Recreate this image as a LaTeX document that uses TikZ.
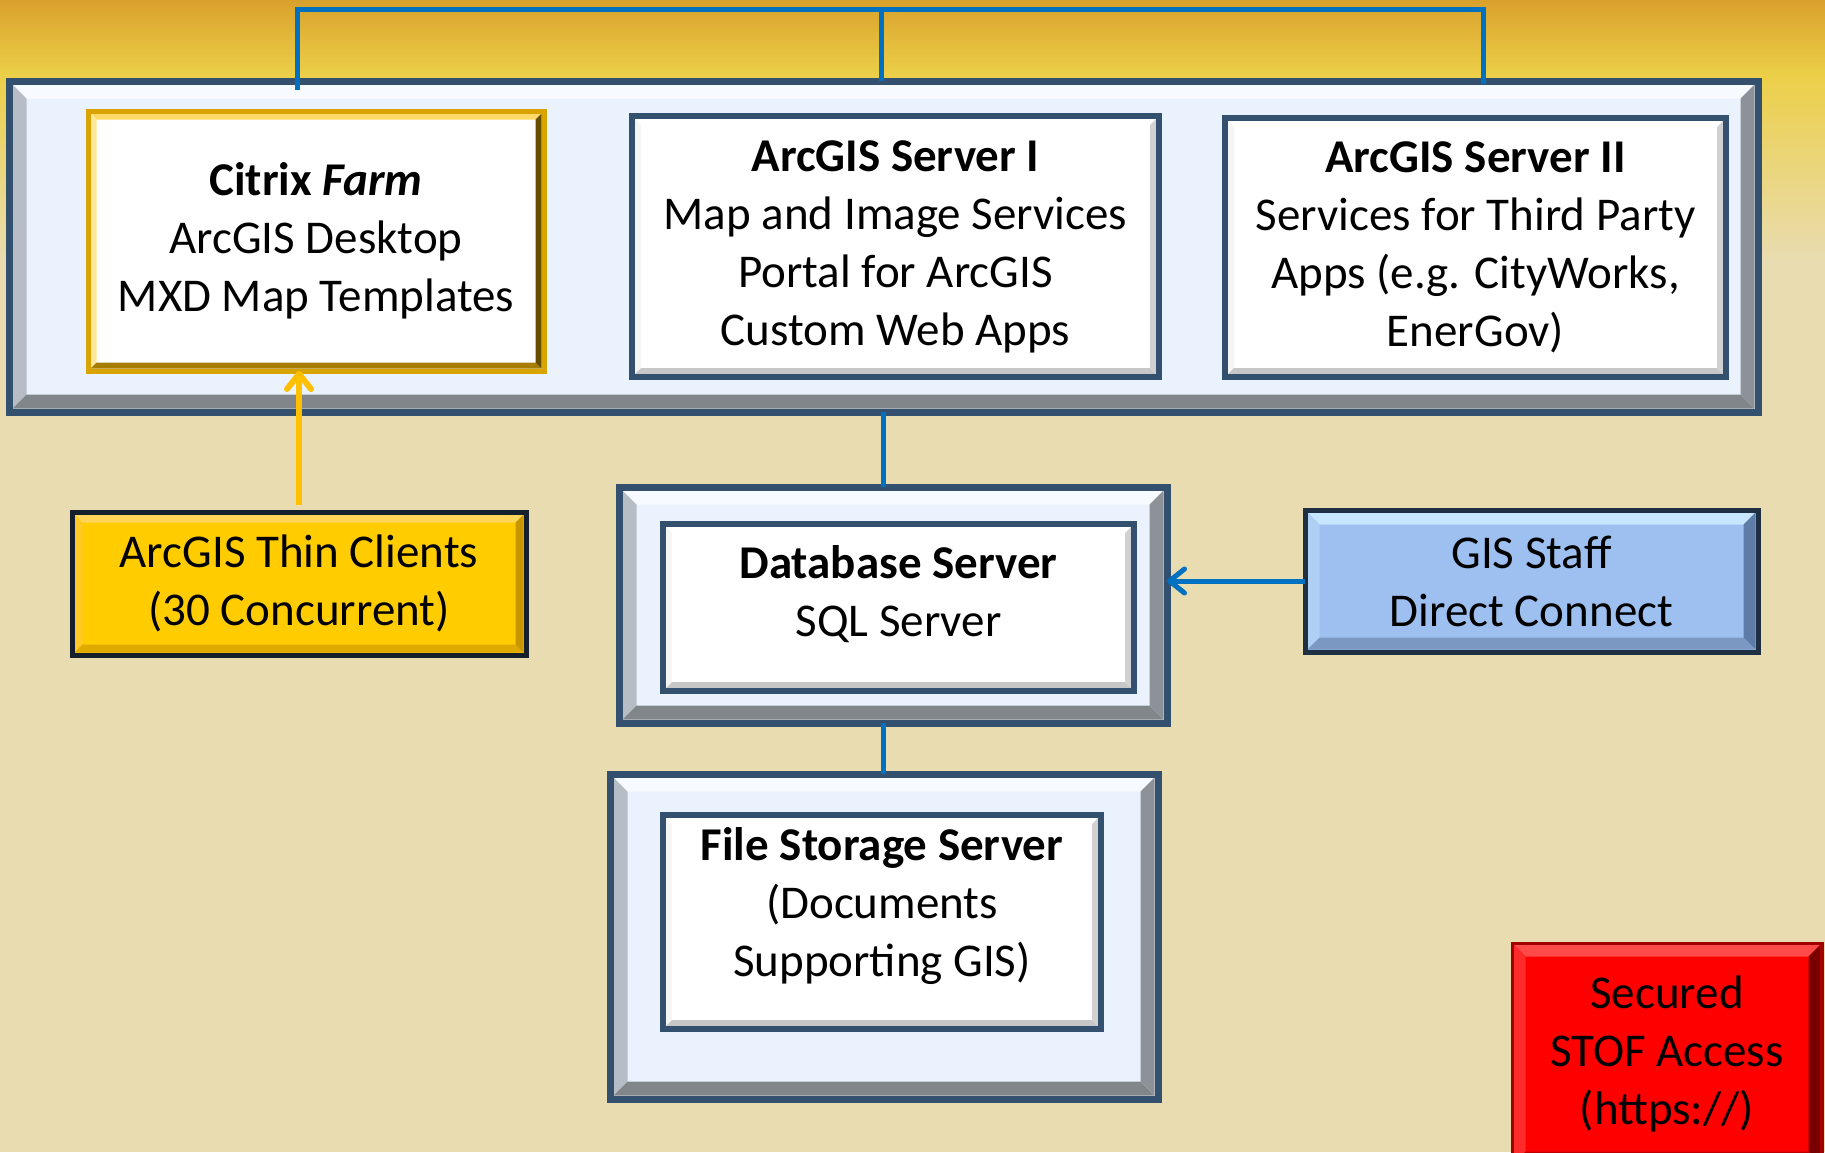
\documentclass[tikz,border=0pt]{standalone}
\usepackage{fontspec}
\setmainfont{Carlito}
\usetikzlibrary{arrows.meta,calc}
\definecolor{bgtan}{HTML}{E9DCB0}
\definecolor{goldA}{HTML}{D9A12C}
\definecolor{goldB}{HTML}{ECCF48}
\definecolor{linkblue}{HTML}{0070C0}
\definecolor{linkyellow}{HTML}{FFC000}
\definecolor{navy}{HTML}{34506F}
\definecolor{paleblue}{HTML}{EAF3FD}
\definecolor{thinfill}{HTML}{FFCC00}
\definecolor{gisfill}{HTML}{9DC0F0}
\definecolor{gistop}{HTML}{C8E6FF}
\definecolor{gisleft}{HTML}{AFCFF5}
\definecolor{gisbot}{HTML}{7B98C2}
\definecolor{gisright}{HTML}{5E7CA8}
\definecolor{redborder}{HTML}{A00000}
\definecolor{redtop}{HTML}{FF4A4A}
\definecolor{redleft}{HTML}{FF2A2A}
\definecolor{redbot}{HTML}{C00000}
\definecolor{redright}{HTML}{7A0000}
\tikzset{
  bev/.style n args={8}{draw=#1, line width=#2, fill=#3, inner sep=0pt, outer sep=0pt, anchor=north west,
    font=\fontsize{47}{58}\selectfont, align=center, text=black,
    path picture={
      \fill[#4] let \p1=(path picture bounding box.south west), \p2=(path picture bounding box.north east) in
        (\x1+0.5*#2,\y2-0.5*#2) -- (\x2-0.5*#2,\y2-0.5*#2) -- (\x2-0.5*#2-#8,\y2-0.5*#2-#8) -- (\x1+0.5*#2+#8,\y2-0.5*#2-#8) -- cycle;
      \fill[#5] let \p1=(path picture bounding box.south west), \p2=(path picture bounding box.north east) in
        (\x1+0.5*#2,\y2-0.5*#2) -- (\x1+0.5*#2,\y1+0.5*#2) -- (\x1+0.5*#2+#8,\y1+0.5*#2+#8) -- (\x1+0.5*#2+#8,\y2-0.5*#2-#8) -- cycle;
      \fill[#6] let \p1=(path picture bounding box.south west), \p2=(path picture bounding box.north east) in
        (\x1+0.5*#2,\y1+0.5*#2) -- (\x2-0.5*#2,\y1+0.5*#2) -- (\x2-0.5*#2-#8,\y1+0.5*#2+#8) -- (\x1+0.5*#2+#8,\y1+0.5*#2+#8) -- cycle;
      \fill[#7] let \p1=(path picture bounding box.south west), \p2=(path picture bounding box.north east) in
        (\x2-0.5*#2,\y2-0.5*#2) -- (\x2-0.5*#2,\y1+0.5*#2) -- (\x2-0.5*#2-#8,\y1+0.5*#2+#8) -- (\x2-0.5*#2-#8,\y2-0.5*#2-#8) -- cycle;
    }},
  outerbev/.style={bev={navy}{7pt}{paleblue}{{white!60!paleblue}}{{black!22!paleblue}}{{black!45!paleblue}}{{black!40!paleblue}}{14pt}},
  whitebev/.style={bev={navy}{6pt}{white}{white}{{black!4}}{{black!22}}{{black!18}}{6pt}},
  goldbev/.style={bev={{linkyellow!85!black}}{5pt}{white}{{white!40!linkyellow}}{{white!60!linkyellow}}{{linkyellow!65!black}}{{linkyellow!40!black}}{6pt}},
  thinbev/.style={bev={{navy!40!black}}{5pt}{thinfill}{{white!35!linkyellow}}{{white!15!linkyellow}}{{linkyellow!88!black}}{{linkyellow!78!black}}{8pt}},
  gisbev/.style={bev={{navy!60!black}}{5pt}{gisfill}{gistop}{gisleft}{gisbot}{gisright}{12pt}},
  redbev/.style={bev={redborder}{3pt}{red}{redtop}{redleft}{redbot}{redright}{12pt}},
  bluelink/.style={draw=linkblue, line width=5pt},
  yellowlink/.style={draw=linkyellow, line width=6pt},
  barbtip/.style={-{Straight Barb[length=15pt,width=24pt,round]}},
  lbl/.style={font=\fontsize{47}{58}\selectfont, align=center, text=black}
}
\begin{document}
\begin{tikzpicture}[x=1pt,y=-1pt]
\useasboundingbox (0,0) rectangle (1825,1152);
% background
\fill[bgtan] (0,0) rectangle (1825,1152);
\shade[top color=goldA, bottom color=goldB] (0,0) rectangle (1825,75);
\shade[top color=goldB, bottom color=bgtan] (0,74) rectangle (1825,260);

% top group
\node[outerbev, minimum width=1749pt, minimum height=331pt] (top) at (9,81) {};
\node[goldbev, minimum width=456pt, minimum height=260pt] (citrix) at (88,111)
  {\textbf{Citrix \textit{Farm}}\\ArcGIS Desktop\\MXD Map Templates};
\node[whitebev, minimum width=527pt, minimum height=261pt] (srv1) at (632,116)
  {\textbf{ArcGIS Server I}\\Map and Image Services\\Portal for ArcGIS\\Custom Web Apps};
\node[whitebev, minimum width=501pt, minimum height=259pt] (srv2) at (1225,118)
  {\textbf{ArcGIS Server II}\\Services for Third Party\\Apps (e.g. CityWorks,\\EnerGov)};

% database
\node[outerbev, minimum width=548pt, minimum height=236pt] (dbo) at (619,487) {};
\node[whitebev, minimum width=471pt, minimum height=167pt] (dbi) at (663,524) {};
\node[lbl] (dbtext) at ([yshift=13pt]dbi.center) {\textbf{Database Server}\\SQL Server};

% file storage
\node[outerbev, minimum width=548pt, minimum height=325pt] (fso) at (610,774) {};
\node[whitebev, minimum width=438pt, minimum height=214pt] (fsi) at (663,815) {};
\node[lbl] (fstext) at ([yshift=16pt]fsi.center) {\textbf{File Storage Server}\\(Documents\\Supporting GIS)};

% side boxes
\node[thinbev, minimum width=454pt, minimum height=143pt] (thin) at (72,512)
  {ArcGIS Thin Clients\\(30 Concurrent)};
\node[gisbev, minimum width=453pt, minimum height=142pt] (gis) at (1305,510)
  {GIS Staff\\Direct Connect};
\node[redbev, minimum width=310pt, minimum height=222pt] (red) at (1512,943)
  {Secured\\STOF Access\\(https://)};

% connectors
\coordinate (brL) at (297,9);
\coordinate (brM) at (881,9);
\coordinate (brR) at (1483,9);
\coordinate (link) at (883,450);
\draw[bluelink, line cap=rect] ([yshift=-6pt]brL |- top.north) -- (brL) -- (brR) -- (brR |- top.north);
\draw[bluelink] (brM) -- (brM |- top.north);
\draw[bluelink] (link |- top.south) -- (link |- dbo.north);
\draw[bluelink] (link |- dbo.south) -- (link |- fso.north);
\draw[yellowlink, barbtip] ([yshift=7pt]thin.north) -- (thin.north |- citrix.south);
\draw[bluelink, barbtip] (gis.west) -- (gis.west -| dbo.east);
\end{tikzpicture}
\end{document}
